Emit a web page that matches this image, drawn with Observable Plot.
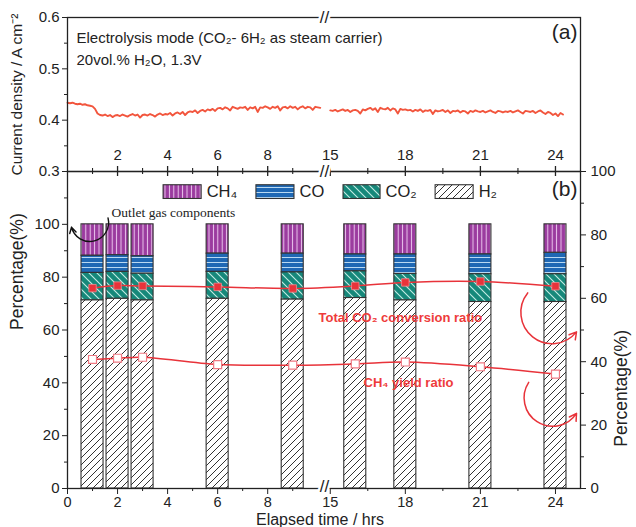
<!DOCTYPE html>
<html><head><meta charset="utf-8">
<script src="https://cdn.jsdelivr.net/npm/d3@7"></script>
<script src="https://cdn.jsdelivr.net/npm/@observablehq/plot@0.6"></script>
<style>
body{margin:0;background:#fff;}
#chart{position:relative;width:636px;height:527px;font-family:"Liberation Sans",Arial,sans-serif;}
#chart svg{position:absolute;left:0;top:0;overflow:visible;}
</style></head><body><div id="chart"></div>
<script>
// ---------- data ----------
// Panel (a): current density (A cm^-2), sampled every 0.1 h
const cdStart1 = 0.0;
const cdValues1 = [
0.434,0.433,0.434,0.432,0.431,0.432,0.430,0.431,0.429,0.428,
0.427,0.422,0.413,0.410,0.409,0.411,0.408,0.410,0.406,0.409,
0.410,0.408,0.411,0.409,0.407,0.410,0.412,0.409,0.411,0.405,
0.410,0.411,0.409,0.412,0.410,0.407,0.411,0.413,0.410,0.412,
0.411,0.414,0.409,0.413,0.415,0.412,0.416,0.410,0.415,0.417,
0.416,0.419,0.414,0.418,0.420,0.417,0.421,0.419,0.422,0.418,
0.423,0.424,0.421,0.425,0.423,0.419,0.426,0.424,0.422,0.425,
0.424,0.426,0.420,0.425,0.423,0.426,0.416,0.425,0.424,0.427,
0.425,0.422,0.426,0.424,0.427,0.419,0.425,0.426,0.423,0.427,
0.424,0.426,0.421,0.425,0.427,0.423,0.426,0.425,0.420,0.426,
0.425,0.424];
const cdStart2 = 15.0;
const cdValues2 = [
0.419,0.418,0.420,0.417,0.419,0.421,0.418,0.420,0.416,0.419,
0.420,0.418,0.413,0.421,0.419,0.422,0.424,0.420,0.423,0.416,
0.424,0.422,0.421,0.424,0.419,0.423,0.421,0.413,0.422,0.420,
0.421,0.419,0.420,0.417,0.420,0.418,0.421,0.416,0.419,0.418,
0.420,0.412,0.419,0.417,0.418,0.420,0.416,0.419,0.414,0.418,
0.417,0.419,0.415,0.418,0.417,0.413,0.418,0.416,0.419,0.417,
0.416,0.418,0.415,0.417,0.419,0.416,0.414,0.418,0.417,0.415,
0.417,0.416,0.418,0.415,0.417,0.419,0.416,0.413,0.418,0.417,
0.416,0.418,0.414,0.417,0.419,0.415,0.412,0.416,0.414,0.410,
0.413,0.408,0.414,0.411];
const cdStep = 0.1;

// Panel (b): outlet gas composition (%)
const barHours = [1, 2, 3, 6, 9, 16, 18, 21, 24];
const h2  = [71.2, 71.8, 71.2, 71.8, 71.5, 72.1, 71.2, 70.6, 70.6];
const co2 = [10.4, 10.2, 10.1, 10.2, 10.3, 10.1, 10.0, 10.5, 10.5];
const co  = [ 6.5,  6.3,  6.6,  6.9,  7.1,  6.4,  7.4,  7.5,  8.1];
const ch4 = [11.9, 11.7, 12.1, 11.1, 11.1, 11.4, 11.4, 11.4, 10.8];
// right axis ratios (%)
const co2Conversion = [63.2, 64.0, 63.9, 63.6, 63.1, 63.9, 65.0, 65.3, 63.8];
const ch4Yield      = [40.7, 41.1, 41.4, 39.1, 38.9, 39.3, 39.9, 38.4, 36.1];

// axis ticks (hours) and labels
const majorHours = [0, 2, 4, 6, 8, 15, 18, 21, 24];
const majorLabels = ["0", "2", "4", "6", "8", "15", "18", "21", "24"];
const minorHours = [1, 3, 5, 7, 9, 16.5, 19.5, 22.5];
const cdTicks = [0.3, 0.4, 0.5, 0.6];
const cdMinor = [0.35, 0.45, 0.55];
const pctTicks = [0, 20, 40, 60, 80, 100];
const pctMinorLeft = [10, 30, 50, 70, 90, 110];
const pctMinorRight = [10, 30, 50, 70, 90];

// ---------- broken axis ----------
const breakAt = 10.5, breakShift = 4.5;
const toU = t => (t <= breakAt ? t : t - breakShift);
const xDomain = [0, 25 - breakShift];
const breakU = 10.27;

const font = "'Liberation Sans', Arial, sans-serif";
const W = 636, H = 527, ML = 67, MR = 56;
const red = "#e8333a";
const orange = "#f2553d";
const dark = "#222";

const cd1 = cdValues1.map((v, i) => ({t: cdStart1 + i * cdStep, v}));
const cd2 = cdValues2.map((v, i) => ({t: cdStart2 + i * cdStep, v}));

const labelOf = new Map(majorHours.map((h, i) => [toU(h), majorLabels[i]]));

const base = {
  width: W, height: H, marginLeft: ML, marginRight: MR,
  style: {background: "transparent", fontFamily: font, fontSize: "15px", color: dark, overflow: "visible"},
  x: {domain: xDomain, axis: null}
};
const breakMark = (anchor, dy = 0) => Plot.text(["//"], {
  x: () => breakU, frameAnchor: anchor, text: d => d, fontSize: 17, fill: dark, dy,
  stroke: "white", strokeWidth: 5, lineAnchor: "middle", fontWeight: "normal"
});

// ---------- panel (a) ----------
const aMajor = majorHours.filter(h => h > 0).map(toU);
const pa = Plot.plot({
  ...base, marginTop: 17, marginBottom: H - 171,
  y: {domain: [0.3, 0.6], axis: null},
  marks: [
    Plot.line(cd1, {x: d => toU(d.t), y: "v", stroke: orange, strokeWidth: 1.9}),
    Plot.line(cd2, {x: d => toU(d.t), y: "v", stroke: orange, strokeWidth: 1.9}),
    Plot.frame({stroke: dark, strokeWidth: 1.3}),
    Plot.axisY(cdTicks, {tickSize: 5, tickPadding: 3, tickFormat: d => d.toFixed(1), label: null, fontSize: 15, stroke: dark}),
    Plot.axisY(cdMinor, {tickSize: 3, tickFormat: () => "", label: null, stroke: dark}),
    Plot.tickX(aMajor, {x: d => d, insetTop: 144, dy: 5, stroke: dark, strokeWidth: 1.3}),
    Plot.tickX(minorHours.map(toU), {x: d => d, insetTop: 148, dy: 3, stroke: dark, strokeWidth: 1.1}),
    Plot.text(aMajor, {x: d => d, text: d => labelOf.get(d), frameAnchor: "bottom", lineAnchor: "middle", dy: -16, fontSize: 15, fill: dark}),
    Plot.text(["Current density / A cm⁻²"], {text: d => d, frameAnchor: "left", rotate: -90, dx: -50, fontSize: 15.5, fill: dark, textAnchor: "middle", lineAnchor: "middle"}),
    Plot.text(["Electrolysis mode (CO₂- 6H₂ as steam carrier)\n20vol.% H₂O, 1.3V"], {text: d => d, frameAnchor: "top-left", dx: 9, dy: 10, fontSize: 15, lineHeight: 1.45, fill: dark}),
    Plot.text(["(a)"], {text: d => d, frameAnchor: "top-right", dx: -3, dy: 7, fontSize: 21, fill: dark}),
    breakMark("top")
  ]
});

// ---------- panel (b), left scale ----------
const bars = [];
barHours.forEach((h, i) => {
  let acc = 0;
  [["h2", h2[i]], ["co2", co2[i]], ["co", co[i]], ["ch4", ch4[i]]].forEach(([g, v]) => {
    bars.push({gas: g, u: toU(h), y1: acc, y2: acc + v});
    acc += v;
  });
});
const fills = {ch4: "url(#p-ch4)", co: "url(#p-co)", co2: "url(#p-co2)", h2: "url(#p-h2)"};
const barHalf = 0.44;
const legendItems = [
  {gas: "ch4", label: "CH₄", x1: 3.84, x2: 5.36},
  {gas: "co",  label: "CO",  x1: 7.55, x2: 9.07},
  {gas: "co2", label: "CO₂", x1: 11.03, x2: 12.51},
  {gas: "h2",  label: "H₂",  x1: 14.71, x2: 16.23}
];
const legY1 = 109.6, legY2 = 114.8;

const pb = Plot.plot({
  ...base, marginTop: 171, marginBottom: H - 488,
  y: {domain: [0, 120], axis: null},
  marks: [
    ...Object.keys(fills).map(g => Plot.rect(bars.filter(d => d.gas === g), {
      x1: d => d.u - barHalf, x2: d => d.u + barHalf, y1: "y1", y2: "y2",
      fill: fills[g], stroke: "#333", strokeWidth: 1.1
    })),
    ...legendItems.map(d => Plot.rect([d], {x1: "x1", x2: "x2", y1: () => legY1, y2: () => legY2, fill: fills[d.gas], stroke: "#333", strokeWidth: 1.1})),
    Plot.text(legendItems, {x: d => d.x2 + 0.2, y: () => (legY1 + legY2) / 2, text: "label", textAnchor: "start", fontSize: 16.5, fill: dark}),
    Plot.text(["Outlet gas components"], {x: () => 1.76, y: () => 104.3, text: d => d, textAnchor: "start", fontFamily: "'Liberation Serif', 'Times New Roman', serif", fontSize: 13.5, fill: dark}),
    Plot.arrow([{x1: 1.62, y1: 102.4, x2: 0.16, y2: 98.9}], {x1: "x1", y1: "y1", x2: "x2", y2: "y2", bend: 100, stroke: "#111", strokeWidth: 1.4, headLength: 7}),
    Plot.frame({stroke: dark, strokeWidth: 1.3}),
    Plot.axisY(pctTicks, {tickSize: 5, tickPadding: 3, label: null, fontSize: 15, stroke: dark}),
    Plot.axisY(pctMinorLeft, {tickSize: 3, tickFormat: () => "", label: null, stroke: dark}),
    Plot.axisX(majorHours.map(toU), {tickSize: 6, tickPadding: 2, tickFormat: d => labelOf.get(d), label: null, fontSize: 14.5, stroke: dark}),
    Plot.axisX(minorHours.map(toU), {tickSize: 3, tickFormat: () => "", label: null, stroke: dark}),
    Plot.text(["Percentage(%)"], {text: d => d, frameAnchor: "left", rotate: -90, dx: -50, fontSize: 17.5, fill: dark}),
    Plot.text(["Elapsed time / hrs"], {text: d => d, frameAnchor: "bottom", dx: -4, dy: 31, lineAnchor: "middle", fontSize: 16, fill: dark}),
    Plot.text(["(b)"], {text: d => d, frameAnchor: "top-right", dx: -3, dy: 10, fontSize: 21, fill: dark})
  ]
});
d3.select(pb).insert("defs", ":first-child").html(`
  <pattern id="p-ch4" patternUnits="userSpaceOnUse" width="4.4" height="10">
    <rect width="4.4" height="10" fill="#9b3b9f"/>
    <line x1="2.2" y1="0" x2="2.2" y2="10" stroke="#ecc8ee" stroke-width="1"/>
  </pattern>
  <pattern id="p-co" patternUnits="userSpaceOnUse" width="10" height="5">
    <rect width="10" height="5" fill="#1f68b4"/>
    <line x1="0" y1="2.5" x2="10" y2="2.5" stroke="#b9d9f2" stroke-width="1"/>
  </pattern>
  <pattern id="p-co2" patternUnits="userSpaceOnUse" width="8" height="8">
    <rect width="8" height="8" fill="#16887a"/>
    <path d="M0,0 L8,8 M-2,6 L2,10 M6,-2 L10,2" stroke="#c4ece4" stroke-width="1.1"/>
  </pattern>
  <pattern id="p-h2" patternUnits="userSpaceOnUse" width="7" height="7">
    <rect width="7" height="7" fill="#fff"/>
    <path d="M0,7 L7,0 M-2,2 L2,-2 M5,9 L9,5" stroke="#333" stroke-width="1"/>
  </pattern>`);

// ---------- panel (b), right scale ----------
const ratioRows = barHours.map((h, i) => ({u: toU(h), conv: co2Conversion[i], yield: ch4Yield[i]}));
const redArrows = [
  {x1: 18.39, y1: 61.7, x2: 20.34, y2: 49.4},
  {x1: 18.43, y1: 33.5, x2: 20.34, y2: 23.7}
];
const pc = Plot.plot({
  ...base, marginTop: 171, marginBottom: H - 488,
  y: {domain: [0, 100], axis: null},
  marks: [
    Plot.line(ratioRows, {x: "u", y: "conv", curve: "catmull-rom", stroke: red, strokeWidth: 1.5}),
    Plot.line(ratioRows, {x: "u", y: "yield", curve: "catmull-rom", stroke: red, strokeWidth: 1.5}),
    Plot.dot(ratioRows, {x: "u", y: "conv", symbol: "square", r: 4.2, fill: red, stroke: "#f08a90", strokeWidth: 0.8}),
    Plot.dot(ratioRows, {x: "u", y: "yield", symbol: "square", r: 4.5, fill: "white", stroke: "#f07a84", strokeWidth: 1.2}),
    Plot.text(["Total CO₂ conversion ratio"], {x: () => 10.03, y: () => 53.8, text: d => d, textAnchor: "start", fontWeight: "bold", fontSize: 13, fill: "#ee3b3b"}),
    Plot.text(["CH₄ yield ratio"], {x: () => 11.83, y: () => 33.2, text: d => d, textAnchor: "start", fontWeight: "bold", fontSize: 13, fill: "#ee3b3b"}),
    Plot.arrow(redArrows, {x1: "x1", y1: "y1", x2: "x2", y2: "y2", bend: -90, stroke: red, strokeWidth: 1.5, headLength: 8}),
    Plot.axisY(pctTicks, {anchor: "right", tickSize: 5, tickPadding: 5, label: null, fontSize: 15, stroke: dark}),
    Plot.axisY(pctMinorRight, {anchor: "right", tickSize: 3, tickFormat: () => "", label: null, stroke: dark}),
    Plot.text(["Percentage(%)"], {text: d => d, frameAnchor: "right", rotate: -90, dx: 41, fontSize: 17.5, fill: dark}),
    breakMark("top"),
    breakMark("bottom", -2)
  ]
});

const host = document.getElementById("chart");
host.append(pa, pb, pc);
</script></body></html>
